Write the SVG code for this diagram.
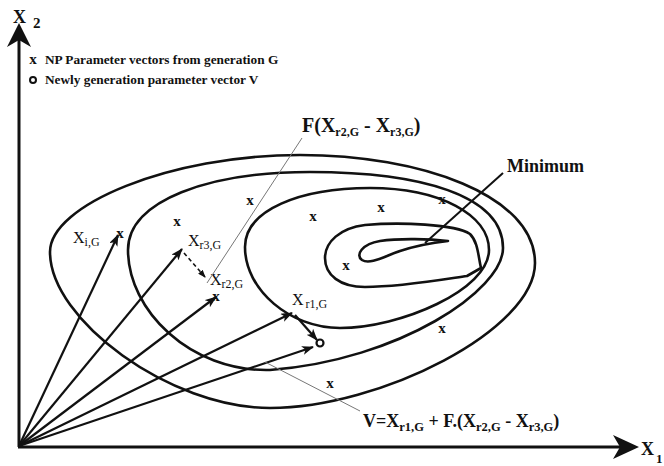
<svg xmlns="http://www.w3.org/2000/svg" width="664" height="466" viewBox="0 0 664 466">
<style>
.c{fill:none;stroke:#111;stroke-width:2.6;stroke-linejoin:round}
.v{fill:none;stroke:#111;stroke-width:2.2}
.thin{fill:none;stroke:#777;stroke-width:1}
.t{font-family:"Liberation Serif","Times New Roman",serif;fill:#111}
.b{font-weight:bold}
.mk{font-family:"Liberation Serif",serif;font-weight:bold;font-size:15px;fill:#111;text-anchor:middle}
</style>
<defs>
<marker id="ah" viewBox="0 0 12 9" refX="11" refY="4.5" markerWidth="12" markerHeight="9" markerUnits="userSpaceOnUse" orient="auto"><path d="M0,0 L12,4.5 L0,9 L3,4.5 Z" fill="#111"/></marker>
<marker id="ahs" viewBox="0 0 8 6" refX="7" refY="3" markerWidth="8" markerHeight="6" markerUnits="userSpaceOnUse" orient="auto"><path d="M0,0 L8,3 L0,6 Z" fill="#111"/></marker>
</defs>
<rect width="664" height="466" fill="#fff"/>

<g id="axes">
<line x1="19" y1="447" x2="19" y2="40" stroke="#111" stroke-width="3"/>
<polygon points="19,23 31,47 19,40 7,47" fill="#111"/>
<line x1="18" y1="447" x2="620" y2="447" stroke="#111" stroke-width="3"/>
<polygon points="639,447 613,435 620,447 613,459" fill="#111"/>
<text class="t b" x="13" y="23" font-size="18">X</text>
<text class="t b" x="33" y="28" font-size="15">2</text>
<text class="t b" x="641" y="455" font-size="18">X</text>
<text class="t b" x="656" y="463" font-size="13">1</text>
</g>

<g id="legend">
<text class="mk" x="33" y="64">x</text>
<text class="t b" x="45" y="64" font-size="13.3">NP Parameter vectors from generation G</text>
<circle cx="33" cy="80" r="3" fill="none" stroke="#111" stroke-width="2"/>
<text class="t b" x="45" y="84" font-size="13.3">Newly generation parameter vector V</text>
</g>

<g id="contours">
<path id="c1" class="c" d="M50,252 C50,205 170,155 300,155 C420,155 535,195 535,263 C535,330 380,408 270,408 C170,408 50,320 50,252 Z"/>
<path id="c2" class="c" d="M128,250 C128,200 210,172 310,172 C420,172 503,195 503,248 C503,290 400,360 270,370 C190,372 128,310 128,250 Z"/>
<path id="c3" class="c" d="M245,247 C245,210 300,188 370,188 C440,188 489,215 489,250 C489,290 400,328 340,328 C290,328 245,290 245,247 Z"/>
<path id="c4" class="c" d="M481,268 C478,255 478,242 470,234 C455,224 400,222 365,225 C340,228 325,242 325,258 C325,275 340,287 365,287 C400,287 440,280 467,276 Z"/>
<path id="c5" class="c" d="M448,241 C430,239 400,238 380,241 C362,244 355,255 362,260 C370,265 385,256 400,251 C415,246 430,243 448,241 Z"/>
</g>

<g id="population">
<text class="mk" x="250" y="205">x</text>
<text class="mk" x="177" y="226">x</text>
<text class="mk" x="313" y="221">x</text>
<text class="mk" x="381" y="212">x</text>
<text class="mk" x="442" y="204">x</text>
<text class="mk" x="346" y="270">x</text>
<text class="mk" x="442" y="333">x</text>
<text class="mk" x="330" y="388">x</text>
</g>

<g id="xi">
<text class="mk" x="120" y="238">x</text>
<text class="t" x="73" y="243" font-size="16">X<tspan font-size="12" dy="3">i,G</tspan></text>
</g>
<g id="xr3">
<text class="t" x="188" y="246" font-size="16">X<tspan font-size="12" dy="3">r3,G</tspan></text>
</g>
<g id="xr2">
<text class="mk" x="216" y="301">x</text>
<text class="t" x="210" y="285" font-size="16">X<tspan font-size="12" dy="3">r2,G</tspan></text>
</g>
<g id="xr1">
<text class="t" x="292" y="305" font-size="16">X<tspan font-size="12" dx="2" dy="3">r1,G</tspan></text>
</g>
<g id="v">
<circle cx="320" cy="343" r="3.5" fill="none" stroke="#111" stroke-width="2.2"/>
</g>

<g id="minimum">
<text class="t b" x="507" y="172" font-size="18">Minimum</text>
</g>

<g id="f-label">
<text class="t b" x="302" y="132" font-size="20">F(X<tspan font-size="12" dy="4">r2,G</tspan><tspan dy="-4"> - X</tspan><tspan font-size="12" dy="4">r3,G</tspan><tspan dy="-4">)</tspan></text>
</g>

<g id="v-label">
<text class="t b" x="363" y="427" font-size="18">V=X<tspan font-size="12.5" dy="4">r1,G</tspan><tspan dy="-4"> + F.(X</tspan><tspan font-size="12.5" dy="4">r2,G</tspan><tspan dy="-4"> - X</tspan><tspan font-size="12.5" dy="4">r3,G</tspan><tspan dy="-4">)</tspan></text>
</g>

<g id="connectors">
<line class="v" x1="19" y1="446" x2="118" y2="235" marker-end="url(#ah)"/>
<line class="v" x1="19" y1="446" x2="182" y2="249" marker-end="url(#ah)"/>
<line class="v" x1="19" y1="446" x2="216" y2="297" marker-end="url(#ah)"/>
<line class="v" x1="19" y1="446" x2="292" y2="313" marker-end="url(#ah)"/>
<line class="v" x1="19" y1="446" x2="313" y2="347" marker-end="url(#ah)"/>
<line class="v" x1="295" y1="315" x2="317" y2="340" marker-end="url(#ah)"/>
<line x1="184" y1="253" x2="205" y2="277" stroke="#111" stroke-width="1.6" stroke-dasharray="4,3" marker-end="url(#ahs)"/>
<line class="thin" x1="302" y1="138" x2="207" y2="283"/>
<line class="thin" x1="265" y1="362" x2="360" y2="411"/>
<line x1="503" y1="173" x2="425" y2="243" stroke="#111" stroke-width="2"/>
</g>
</svg>
